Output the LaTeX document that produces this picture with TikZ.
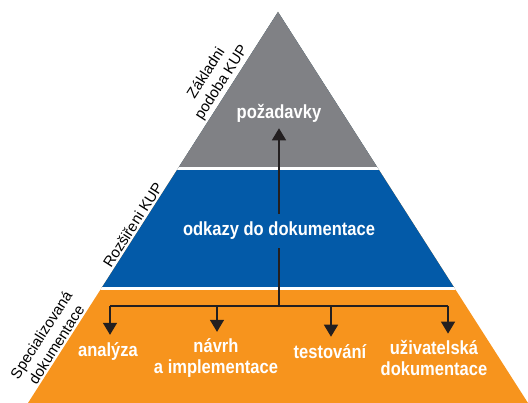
\documentclass[tikz,border=0pt]{standalone}
\usepackage{fontspec}
\setmainfont{Liberation Sans}
\newfontfamily\narrowbf[FakeStretch=0.87]{Liberation Sans Bold}
\usetikzlibrary{arrows.meta}

\definecolor{kupgray}{RGB}{128,129,133}
\definecolor{kupblue}{RGB}{3,90,168}
\definecolor{kuporange}{RGB}{247,148,29}
\definecolor{kupline}{RGB}{35,31,32}

\tikzset{
  level/.style={text=white, font=\narrowbf\fontsize{19}{21}\selectfont, align=center, inner sep=0pt},
  side/.style={font=\fontsize{15}{18}\selectfont, align=center, inner sep=2pt},
  link/.style={kupline, line width=1.4pt, -{Triangle[length=12pt,width=14pt]}},
  bus/.style={kupline, line width=1.4pt},
}

\begin{document}
\begin{tikzpicture}[x=1pt,y=-1pt]
  \useasboundingbox (0,0) rectangle (528,403);
  \coordinate (top) at (278,12);
  \coordinate (bl) at (28,403);
  \coordinate (br) at (528,403);

  % three bands of the pyramid
  \begin{scope}
    \clip (top) -- (bl) -- (br) -- cycle;
    \fill[kuporange] (0,0) rectangle (528,403);
    \fill[kupblue] (0,0) rectangle (528,288.5);
    \fill[kupgray] (0,0) rectangle (528,168.5);
    \draw[white, line width=3pt] (0,168.5) -- (528,168.5) (0,288.5) -- (528,288.5);
  \end{scope}

  %% side captions
  \path (bl) -- (top)
    node[side, sloped, above, pos=0.806] (basic) {Základni\\podoba KUP}
    node[side, sloped, above, pos=0.445] (ext) {Rozšiřeni KUP}
    node[side, sloped, above, pos=0.139] (spec) {Specializovaná\\dokumentace};

  % texts in the bands
  \node[level] (req) at (279,113) {požadavky};
  \node[level] (ana) at (108,352) {analýza};
  \node[level] (des) at (216,358.5) {návrh\\a implementace};
  \node[level] (tst) at (330,352) {testování};
  \node[level] (usr) at (434,358.5) {uživatelská\\dokumentace};

  % branching bar
  \coordinate (hub) at (279,306);
  \coordinate (b1) at (110,306);
  \coordinate (b2) at (217,306);
  \coordinate (b3) at (331,306);
  \coordinate (b4) at (448,306);
  \draw[bus] (b1) -- (b4);
  \draw[link] (hub) -- ([yshift=-6pt]req.south);
  \node[level, fill=kupblue, inner xsep=3pt, inner ysep=8pt] (refs) at (279,231) {odkazy do dokumentace};

  \draw[link, shorten >=8pt] (b1) -- (b1 |- ana.north);
  \draw[link, shorten >=7pt] (b2) -- (b2 |- des.north);
  \draw[link, shorten >=8pt] (b3) -- (b3 |- tst.north);
  \draw[link, shorten >=7pt] (b4) -- (b4 |- usr.north);
\end{tikzpicture}
\end{document}
